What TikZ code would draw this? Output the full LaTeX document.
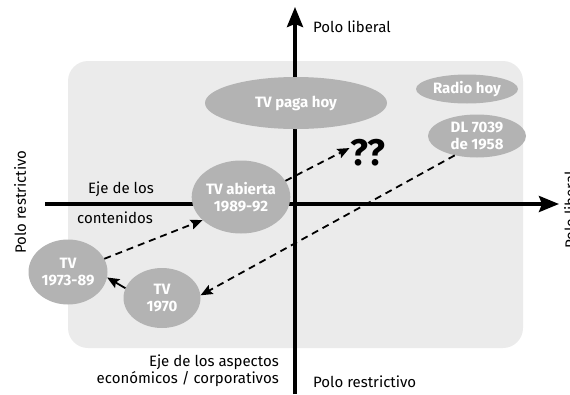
\documentclass[tikz,border=0pt]{standalone}
\usepackage{fontspec}
\setmainfont{Fira Sans}
\usetikzlibrary{shapes.geometric, arrows.meta}
\definecolor{panelgray}{HTML}{EBEBEB}
\definecolor{ellgray}{HTML}{B3B3B3}

\tikzset{
    ellip/.style={ellipse, fill=ellgray, text=white, inner sep=0pt, align=center,
        font=\fontsize{15}{17}\selectfont\bfseries},
    axis/.style={line width=3.5pt, -{Stealth[length=20pt, width=16pt, inset=3pt]}},
    move/.style={dash pattern=on 7pt off 5pt, line width=1.8pt, -{Stealth[length=12pt, width=10pt, inset=2pt]}},
    lbl/.style={font=\fontsize{15}{17}\selectfont, inner sep=0pt}
}

\begin{document}
\begin{tikzpicture}[x=1pt, y=-1pt]
    \useasboundingbox (0,0) rectangle (570,394);
    \fill[panelgray, rounded corners=20pt] (68,61) rectangle (523,348);

    % ejes
    \coordinate (xs) at (45,204);
    \coordinate (xe) at (559,204);
    \coordinate (ys) at (295,394);
    \coordinate (ye) at (295,7);
    \draw[axis] (xs) -- (xe);
    \draw[axis] (ys) -- (ye);

    % medios
    \node[ellip, minimum width=182pt, minimum height=52pt] (tvpaga) at (296,103) {TV paga hoy};
    \node[ellip, minimum width=102pt, minimum height=29pt] (radio) at (467,89) {Radio hoy};
    \node[ellip, minimum width=98pt, minimum height=43pt] (dl) at (477,136) {DL 7039\\de 1958};
    \node[ellip, minimum width=94pt, minimum height=73pt] (tvab) at (241,197) {TV abierta\\1989-92};
    \node[ellip, minimum width=79pt, minimum height=65pt] (tv7389) at (68,272) {TV\\1973-89};
    \node[ellip, minimum width=77pt, minimum height=60pt] (tv70) at (162,298) {TV\\1970};
    \node[font=\fontsize{37}{37}\selectfont\bfseries, inner sep=1pt] (qq) at (368,153) {??};

    % recorridos
    \draw[move] (tv7389.20) -- (tvab.211);
    \draw[move] (tvab.20) -- (qq.165);
    \draw[move] (dl.221) -- (tv70.4);
    \draw[move, solid] (tv70.165) -- (tv7389.-8);

    % rotulos
    \node[lbl, anchor=west] (polib) at (313,27) {Polo liberal};
    \node[lbl, anchor=west] (pores) at (313,382) {Polo restrictivo};
    \node[lbl, rotate=90] (poresl) at (20,202) {Polo restrictivo};
    \node[lbl, rotate=90, anchor=north west] (polibr) at (564,249) {Polo liberal};
    \node[lbl] (ejec1) at (121,189) {Eje de los};
    \node[lbl] (ejec2) at (115,218) {contenidos};
    \node[lbl, anchor=east, align=right] (ejea) at (279,371) {Eje de los aspectos\\econ\'omicos / corporativos};
\end{tikzpicture}
\end{document}
